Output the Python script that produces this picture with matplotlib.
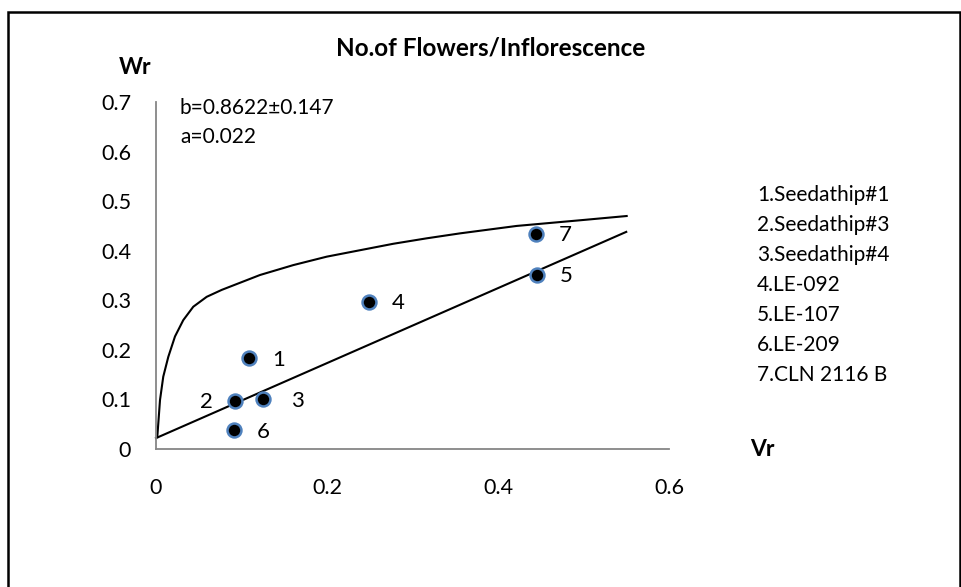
import matplotlib.pyplot as plt
from matplotlib.patches import Rectangle

plt.rcParams['font.family'] = ['Lato', 'DejaVu Sans']

# Vr / Wr of the seven parents
genotypes = ['1.Seedathip#1', '2.Seedathip#3', '3.Seedathip#4', '4.LE-092',
             '5.LE-107', '6.LE-209', '7.CLN 2116 B']
point_ids = ['1', '2', '3', '4', '5', '6', '7']
vr = [0.109, 0.092, 0.125, 0.249, 0.446, 0.091, 0.444]
wr = [0.183, 0.097, 0.100, 0.297, 0.352, 0.038, 0.434]

# regression line (Wr on Vr)
reg_x = [0.0, 0.55]
reg_y = [0.022, 0.438]

# limiting curve
curve_x = [0.0015, 0.0027, 0.0047, 0.0085, 0.0144, 0.0222, 0.0319, 0.0436,
           0.0593, 0.0769, 0.1216, 0.1606, 0.1997, 0.2386, 0.2775, 0.3166,
           0.3556, 0.4219, 0.4998, 0.5505]
curve_y = [0.024, 0.052, 0.099, 0.146, 0.186, 0.227, 0.260, 0.287,
           0.307, 0.321, 0.351, 0.371, 0.388, 0.401, 0.414, 0.425,
           0.435, 0.450, 0.462, 0.470]

x_ticks = [0, 0.2, 0.4, 0.6]
x_ticklabels = ['0', '0.2', '0.4', '0.6']
y_ticks = [0, 0.1, 0.2, 0.3, 0.4, 0.5, 0.6, 0.7]
y_ticklabels = ['0', '0.1', '0.2', '0.3', '0.4', '0.5', '0.6', '0.7']

# label offsets (points) for the numbers next to each dot
label_dx = [21, -20, 25, 21, 21, 21, 21]

W, H = 962, 587


def px(x, y):
    """pixel position (from top-left) -> figure fraction"""
    return x / W, 1 - y / H


fig = plt.figure(figsize=(W / 100, H / 100), dpi=100)
fig.patch.set_facecolor('white')

# outer frame
fig.patches.append(Rectangle(px(8, 600), (952) / W, (600 - 12) / H,
                             transform=fig.transFigure, fill=False,
                             edgecolor='black', linewidth=1.8))

ax = fig.add_axes([156 / W, 1 - 449 / H, (669 - 156) / W, (449 - 102) / H])
ax.set_xlim(0, 0.6)
ax.set_ylim(0, 0.7)
for s in ['top', 'right']:
    ax.spines[s].set_visible(False)
for s in ['left', 'bottom']:
    ax.spines[s].set_color('#868686')
    ax.spines[s].set_linewidth(1.3)
ax.set_xticks(x_ticks, x_ticklabels)
ax.set_yticks(y_ticks, y_ticklabels)
ax.tick_params(axis='both', length=0, labelsize=15.5, colors='black')
ax.tick_params(axis='x', pad=21)
ax.tick_params(axis='y', pad=18)

ax.plot(curve_x, curve_y, color='black', linewidth=1.5, clip_on=False,
        solid_joinstyle='round')
ax.plot(reg_x, reg_y, color='black', linewidth=1.5, clip_on=False)
ax.scatter(vr, wr, s=100, color='black', edgecolors='#4f81bd',
           linewidths=1.8, zorder=3, clip_on=False)

for i, lab in enumerate(point_ids):
    ax.annotate(lab, (vr[i], wr[i]), xytext=(label_dx[i], -1),
                textcoords='offset points', ha='center', va='center',
                fontsize=16)

ax.text(0.028, 0.688, 'b=0.8622\u00b10.147', fontsize=15, va='center')
ax.text(0.028, 0.629, 'a=0.022', fontsize=15, va='center')

fig.text(*px(491, 48), 'No.of Flowers/Inflorescence', ha='center',
         va='center', fontsize=17.5, fontweight='bold')
fig.text(*px(135, 68), 'Wr', ha='center', va='center', fontsize=16.5,
         fontweight='bold')
fig.text(*px(762, 449), 'Vr', ha='center', va='center', fontsize=16.5,
         fontweight='bold')

for i, name in enumerate(genotypes):
    fig.text(*px(757, 195 + 30 * i), name, ha='left', va='center',
             fontsize=15)

fig.savefig('out.png', dpi=100)
